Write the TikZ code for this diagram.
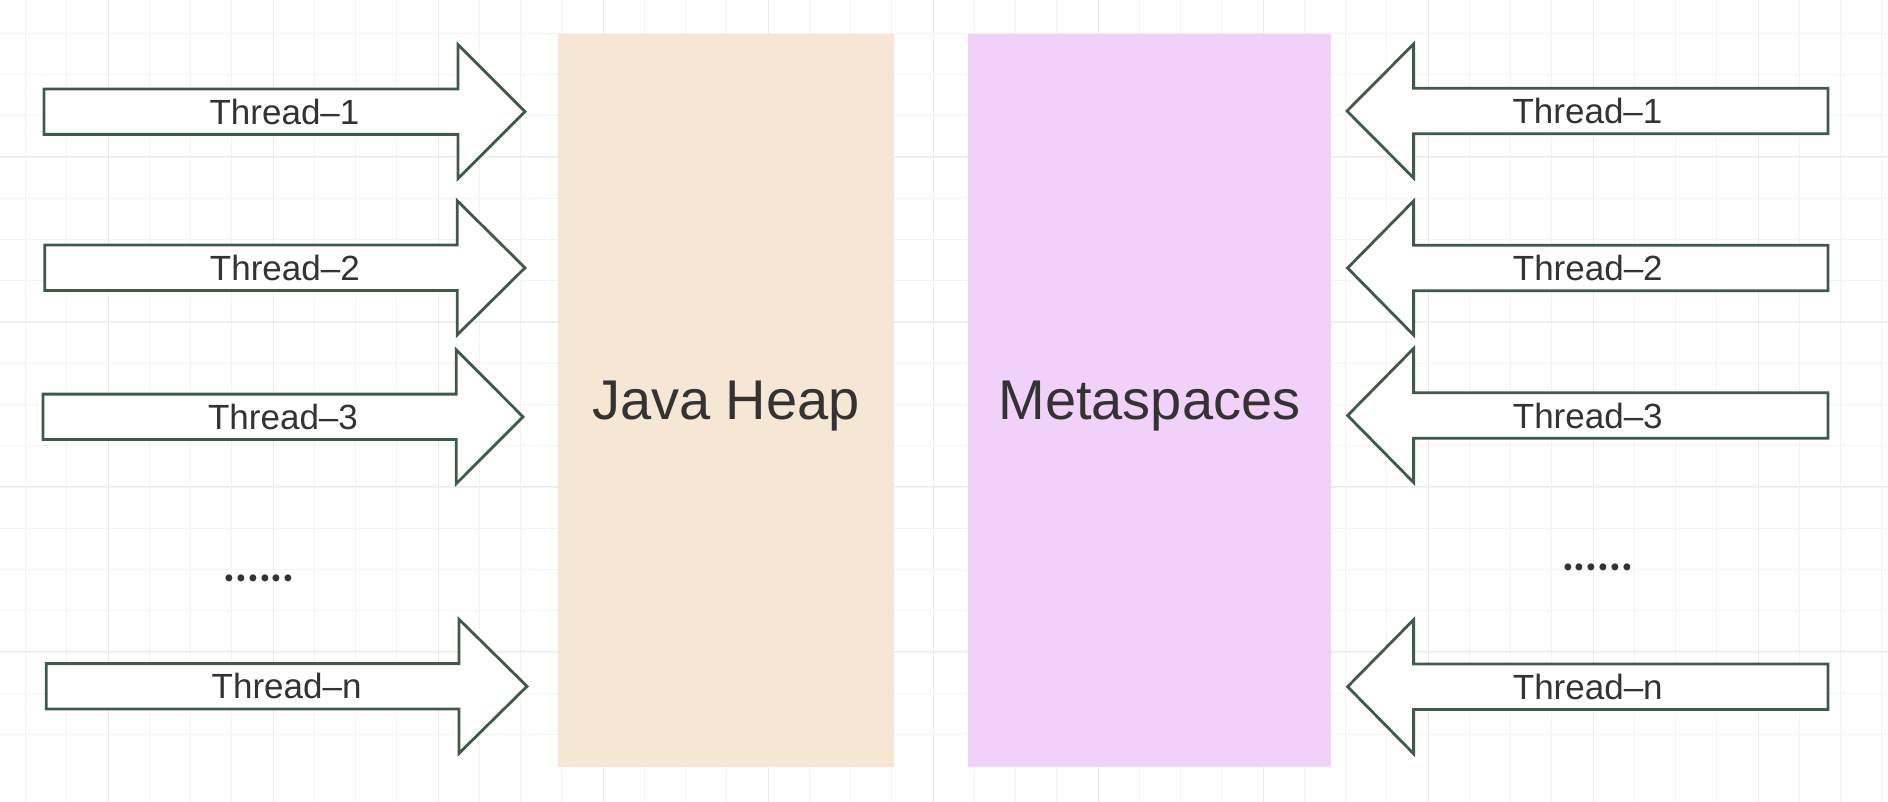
\documentclass[tikz,border=0pt]{standalone}
\usepackage{fontspec}
\setmainfont{Liberation Sans}
\newfontfamily\dotsfont{Poppins}
\definecolor{gridminor}{HTML}{F3F3F3}
\definecolor{gridmajor}{HTML}{EBEBEB}
\definecolor{heapfill}{HTML}{F6E6D4}
\definecolor{metafill}{HTML}{F1D0F9}
\definecolor{arrowline}{HTML}{3F5A48}
\definecolor{txt}{HTML}{333333}
\tikzset{
  thrarrow/.style={draw=arrowline, line width=2.8pt, fill=white, line join=miter},
  thrlabel/.style={font=\fontsize{35}{40}\selectfont, text=txt, anchor=base, inner sep=0pt},
  memlabel/.style={font=\fontsize{56}{64}\selectfont, text=txt, anchor=base, inner sep=0pt},
  dotslabel/.style={font=\dotsfont\fontsize{56}{60}\selectfont, text=txt, anchor=base, inner sep=0pt},
  gridline/.style={line width=1.1pt},
}
% right-pointing arrow: #1 left, #2 head base, #3 tip, #4 centre y, #5 label, #6 name
\newcommand{\rightthr}[6]{%
  \draw[thrarrow] (#1,#4-22.7) -- (#2,#4-22.7) -- (#2,#4-67) -- (#3,#4) -- (#2,#4+67)
    -- (#2,#4+22.7) -- (#1,#4+22.7) -- cycle;
  \node[thrlabel] (#6) at ({(#1+#3)/2},#4+12.5) {#5};
}
% left-pointing arrow: #1 tip, #2 head base, #3 right, #4 centre y, #5 label, #6 name
\newcommand{\leftthr}[6]{%
  \draw[thrarrow] (#3,#4-22.7) -- (#2,#4-22.7) -- (#2,#4-67) -- (#1,#4) -- (#2,#4+67)
    -- (#2,#4+22.7) -- (#3,#4+22.7) -- cycle;
  \node[thrlabel] (#6) at ({(#1+#3)/2},#4+12.5) {#5};
}
\begin{document}
\begin{tikzpicture}[x=1pt,y=-1pt]
\useasboundingbox (0,0) rectangle (1888,802);
\fill[white] (0,0) rectangle (1888,802);
% grid
\foreach \i in {0,...,45} {
  \draw[gridminor, gridline] ({25.6+41.25*\i},0) -- ({25.6+41.25*\i},802);
}
\foreach \i in {0,...,18} {
  \draw[gridminor, gridline] (0,{33.3+41.25*(\i-1)}) -- (1888,{33.3+41.25*(\i-1)});
}
\foreach \i in {0,...,11} {
  \draw[gridmajor, gridline] ({108.3+165*\i},0) -- ({108.3+165*\i},802);
}
\foreach \i in {0,...,4} {
  \draw[gridmajor, gridline] (0,{156.7+165*\i-165}) -- (1888,{156.7+165*\i-165});
}
% memory areas
\fill[heapfill] (558,34.3) rectangle (893.8,766.5);
\fill[metafill] (968,34.3) rectangle (1330.8,766.5);
\node[memlabel] (heap) at (726,419.4) {Java Heap};
\node[memlabel] (meta) at (1149.4,419.4) {Metaspaces};
% left threads
\rightthr{44}{458}{525}{111.7}{Thread--1}{l1}
\rightthr{44.8}{457.3}{525}{267.8}{Thread--2}{l2}
\rightthr{43}{456.2}{523}{416.8}{Thread--3}{l3}
\rightthr{46.3}{459}{527}{686.3}{Thread--n}{ln}
\node[dotslabel] (ldots) at (259,581) {......};
% right threads
\leftthr{1347}{1413.6}{1828}{111}{Thread--1}{r1}
\leftthr{1347.6}{1413.6}{1828}{268}{Thread--2}{r2}
\leftthr{1347.6}{1413.6}{1828}{415.5}{Thread--3}{r3}
\leftthr{1347.6}{1413.6}{1828}{686.7}{Thread--n}{rn}
\node[dotslabel] (rdots) at (1597.5,570) {......};
\end{tikzpicture}
\end{document}
